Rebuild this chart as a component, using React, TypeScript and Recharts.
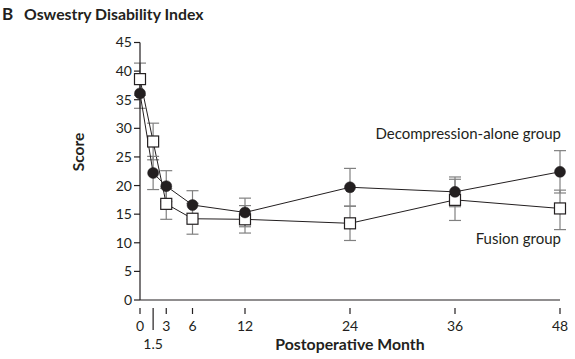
import { LineChart, Line, XAxis, YAxis, ErrorBar, Label } from "recharts";

// months after surgery
const months = [0, 1.5, 3, 6, 12, 24, 36, 48];
const monthTicks = [0, 1.5, 3, 6, 12, 24, 36, 48];
const scoreTicks = [0, 5, 10, 15, 20, 25, 30, 35, 40, 45];

// Decompression-alone group (filled circles)
const decompMean = [36.1, 22.2, 19.9, 16.6, 15.3, 19.7, 18.9, 22.4];
const decompLow = [33.5, 19.3, 17.2, 14.1, 12.8, 16.4, 16.3, 18.7];
const decompHigh = [38.7, 25.1, 22.6, 19.1, 17.8, 23.0, 21.5, 26.1];

// Fusion group (open squares)
const fusionMean = [38.6, 27.7, 16.8, 14.2, 14.1, 13.4, 17.5, 16.0];
const fusionLow = [35.8, 24.5, 14.1, 11.5, 11.7, 10.4, 13.9, 12.3];
const fusionHigh = [41.4, 30.9, 19.5, 16.9, 16.5, 16.4, 21.1, 19.2];

const rows = months.map((m, i) => ({
  month: m,
  decomp: decompMean[i],
  decompErr: [decompMean[i] - decompLow[i], decompHigh[i] - decompMean[i]],
  fusion: fusionMean[i],
  fusionErr: [fusionMean[i] - fusionLow[i], fusionHigh[i] - fusionMean[i]],
}));

const INK = "#231f20";
const GREY = "#808080";
const FONT = "Lato, 'Open Sans', sans-serif";

const CircleDot = ({ cx, cy }: any) => (
  <circle cx={cx} cy={cy} r={5.5} fill={INK} stroke={INK} strokeWidth={0.5} />
);

const SquareDot = ({ cx, cy }: any) => (
  <rect x={cx - 5.5} y={cy - 5.5} width={11} height={11} fill="#fff" stroke={INK} strokeWidth={1.2} />
);

// month ticks; 1.5 sits lower with a long tick line
const MonthTick = ({ x, y, payload }: any) => {
  const low = payload.value === 1.5;
  return (
    <g>
      <line x1={x} x2={x} y1={y} y2={y + (low ? 22 : 6)} stroke={INK} strokeWidth={1.2} />
      <text x={x} y={y + (low ? 41 : 23)} textAnchor="middle" fill={INK} fontSize={14} fontFamily={FONT}>
        {payload.value}
      </text>
    </g>
  );
};

export default function App() {
  return (
    <div style={{ position: "absolute", left: 0, top: 0, width: 575, height: 359, background: "#fff" }}>
      <LineChart
        width={575}
        height={359}
        data={rows}
        margin={{ top: 42.5, right: 15, bottom: 0, left: 0 }}
      >
        <XAxis
          dataKey="month"
          type="number"
          domain={[0, 48]}
          ticks={monthTicks}
          interval={0}
          height={59}
          tickLine={false}
          tick={<MonthTick />}
          axisLine={{ stroke: INK, strokeWidth: 1.2 }}
        >
          <Label
            value="Postoperative Month"
            position="insideBottom"
            offset={9}
            fill={INK}
            fontSize={15.8}
            fontWeight="bold"
            fontFamily={FONT}
          />
        </XAxis>
        <YAxis
          type="number"
          domain={[0, 45]}
          ticks={scoreTicks}
          interval={0}
          width={140}
          tickSize={6}
          tickMargin={2}
          tickLine={{ stroke: INK, strokeWidth: 1.2 }}
          axisLine={{ stroke: INK, strokeWidth: 1.2 }}
          tick={{ fill: INK, fontSize: 14, fontFamily: FONT }}
        >
          <Label
            value="Score"
            angle={-90}
            position="insideLeft"
            offset={78}
            fill={INK}
            fontSize={15.5}
            fontWeight="bold"
            fontFamily={FONT}
          />
        </YAxis>
        <Line
          dataKey="fusion"
          stroke={INK}
          strokeWidth={1}
          dot={<SquareDot />}
          activeDot={false}
          isAnimationActive={false}
        >
          <ErrorBar dataKey="fusionErr" direction="y" width={6} stroke={GREY} strokeWidth={1.2} />
        </Line>
        <Line
          dataKey="decomp"
          stroke={INK}
          strokeWidth={1}
          dot={<CircleDot />}
          activeDot={false}
          isAnimationActive={false}
        >
          <ErrorBar dataKey="decompErr" direction="y" width={6} stroke={GREY} strokeWidth={1.2} />
        </Line>
      </LineChart>
      <svg
        width={575}
        height={359}
        style={{ position: "absolute", left: 0, top: 0, pointerEvents: "none" }}
      >
        <text x={2} y={20} fill={INK} fontSize={17} fontWeight="bold" fontFamily={FONT}>B</text>
        <text x={24} y={20} fill={INK} fontSize={15.8} fontWeight="bold" fontFamily={FONT}>
          Oswestry Disability Index
        </text>
        <text x={561} y={139} textAnchor="end" fill={INK} fontSize={15} fontFamily={FONT}>
          Decompression-alone group
        </text>
        <text x={561} y={244} textAnchor="end" fill={INK} fontSize={15} fontFamily={FONT}>
          Fusion group
        </text>
      </svg>
    </div>
  );
}
